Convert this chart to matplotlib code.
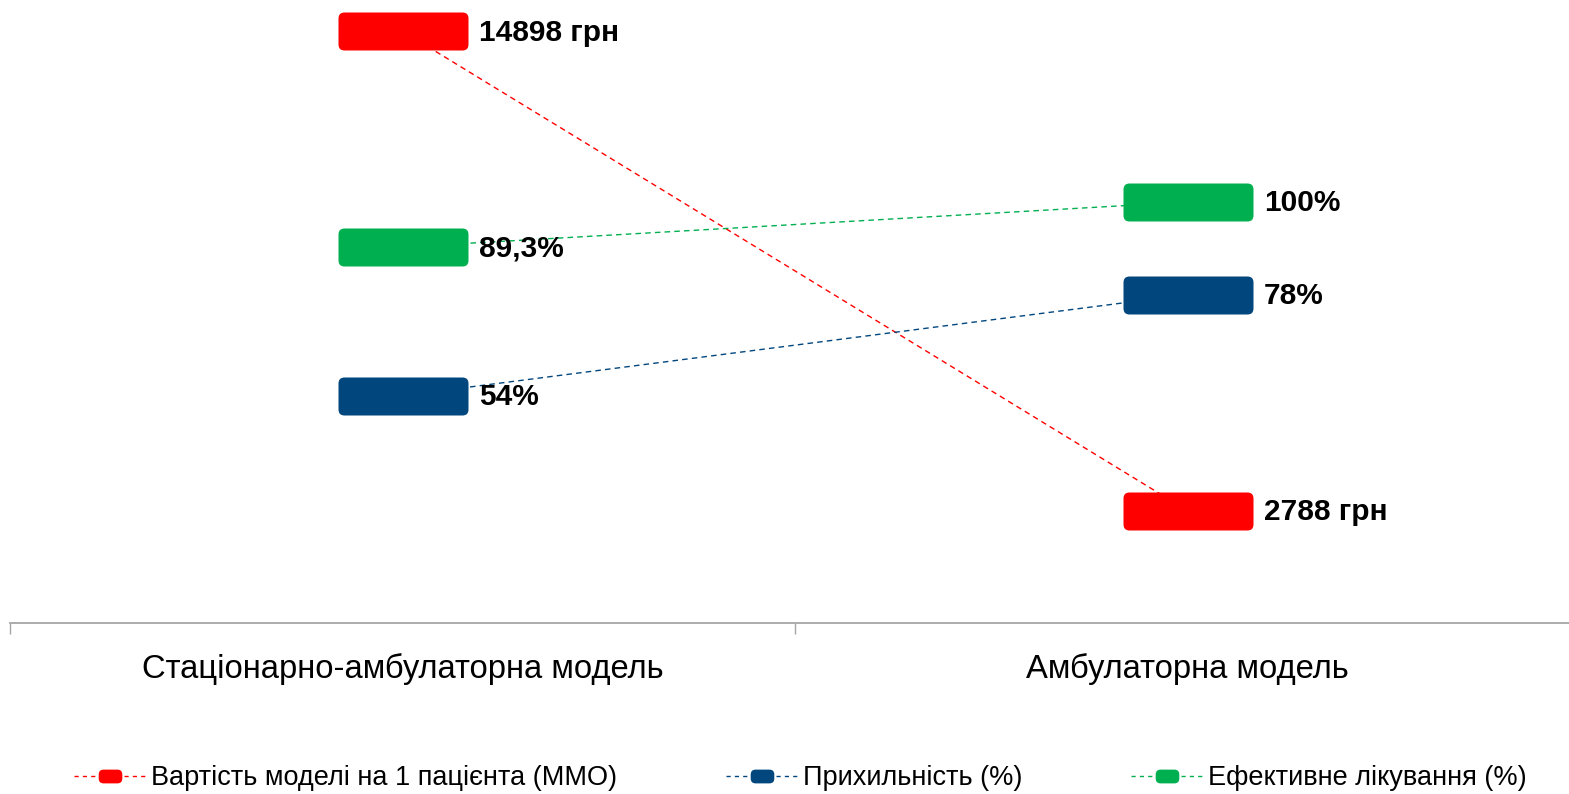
import matplotlib
matplotlib.use("Agg")
from matplotlib import pyplot as plt
from matplotlib.patches import FancyBboxPatch
from matplotlib.lines import Line2D

plt.rcParams['font.family'] = ['Liberation Sans Narrow', 'Liberation Sans', 'DejaVu Sans']

# дані
models = ["Стаціонарно-амбулаторна модель", "Амбулаторна модель"]
cost = [14898, 2788]
adherence = [54, 78]
effective = [89.3, 100]
cost_labels = ["14898 грн", "2788 грн"]
adherence_labels = ["54%", "78%"]
effective_labels = ["89,3%", "100%"]
series_names = ["Вартість моделі на 1 пацієнта (ММО)", "Прихильність (%)", "Ефективне лікування (%)"]

RED = "#FF0000"
BLUE = "#01477E"
GREEN = "#00B050"


def rounded(w, h, r):
    # прямокутник із заокругленими кутами як маркер
    box = FancyBboxPatch((-w / 2, -h / 2), w, h, boxstyle="round,pad=0,rounding_size=%g" % r)
    return box.get_path()


big = rounded(130, 38, 6)
small = rounded(24, 14, 5)

fig = plt.figure(figsize=(15.69, 7.94), dpi=100)
W, H = 1569.0, 794.0
ax = fig.add_axes([10 / W, (H - 623) / H, 1570 / W, 631.5 / H])
ax2 = ax.twinx()

x = range(len(models))
dash = (0, (4, 3))
ax.plot(x, cost, ls=dash, lw=1, color=RED, marker=big, ms=93.6, mew=0, zorder=3)
ax2.plot(x, adherence, ls=dash, lw=1, color=BLUE, marker=big, ms=93.6, mew=0, zorder=3)
ax2.plot(x, effective, ls=dash, lw=1, color=GREEN, marker=big, ms=93.6, mew=0, zorder=3)

ax.set_ylim(-50, 15900)
ax2.set_ylim(0, 150)
ax.set_xlim(-0.5, 1.5)

for a, vals, labs in [(ax, cost, cost_labels), (ax2, adherence, adherence_labels),
                      (ax2, effective, effective_labels)]:
    for i, (v, t) in enumerate(zip(vals, labs)):
        a.annotate(t, (i, v), xytext=(55, -1), textcoords="offset points",
                   va="center", ha="left", fontsize=21.5, fontweight="bold",
                   family=["Liberation Sans", "DejaVu Sans"], color="black")

for a in (ax, ax2):
    for s in ("top", "right", "left"):
        a.spines[s].set_visible(False)
    a.set_yticks([])
ax2.spines["bottom"].set_visible(False)
ax.spines["bottom"].set_color("#A6A6A6")
ax.spines["bottom"].set_linewidth(1.3)

ax.set_xticks(list(x))
ax.set_xticklabels(models, fontsize=23.6)
ax.tick_params(axis="x", which="major", length=0, pad=22)
ax.set_xticks([-0.5, 0.5, 1.5], minor=True)
ax.tick_params(axis="x", which="minor", length=8, color="#A6A6A6", width=1)

handles = [Line2D([], [], color=c, ls=(0, (3, 3)), lw=1, marker=small, ms=17, mew=0)
           for c in (RED, BLUE, GREEN)]
fig.legend(handles, series_names, loc="center", bbox_to_anchor=(0.5 + 16 / W, 16 / H), ncol=3,
           frameon=False, fontsize=19.5, handlelength=2.66, handletextpad=0.2, columnspacing=4.0)

fig.savefig("out.png", dpi=100)
